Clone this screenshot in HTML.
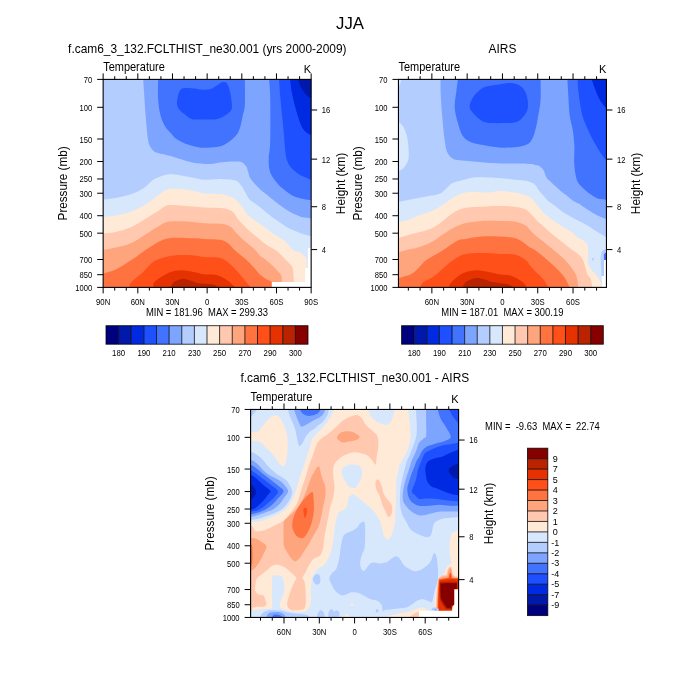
<!DOCTYPE html>
<html><head><meta charset="utf-8"><style>
html,body{margin:0;padding:0;background:#fff;width:700px;height:700px;overflow:hidden}
svg{display:block;will-change:transform}
text{font-family:"Liberation Sans", sans-serif;fill:#000}
</style></head><body>
<svg width="700" height="700" viewBox="0 0 700 700">
<rect width="700" height="700" fill="#fff"/>
<defs>
<clipPath id="c103"><rect x="103.15" y="79.4" width="208" height="208"/></clipPath>
<clipPath id="c398"><rect x="398.45" y="79.4" width="208" height="208"/></clipPath>
<clipPath id="c250"><rect x="250.6" y="409.45" width="208" height="208"/></clipPath>
</defs>
<g clip-path="url(#c103)">
<rect x="103.15" y="79.4" width="208" height="208" fill="#b4cdff"/>
<path d="M143.2,79.3C143.33,81.37 143.6,85.7 144,91.7C144.4,97.7 144.95,107.43 145.6,115.3C146.25,123.17 147.12,133.67 147.9,138.9C148.68,144.13 149.25,144.62 150.3,146.7C151.35,148.78 152.9,150.35 154.2,151.4C155.5,152.45 155.35,152.22 158.1,153C160.85,153.78 165.98,154.78 170.7,156.1C175.42,157.42 181.95,159.72 186.4,160.9C190.85,162.08 193.47,162.68 197.4,163.2C201.33,163.72 206.28,164.13 210,164C213.72,163.87 214.93,162.8 219.7,162.4C224.47,162 234.28,161.07 238.6,161.6C242.92,162.13 244.03,163.95 245.6,165.6C247.17,167.25 247.17,169.3 248,171.5C248.83,173.7 248.77,176 250.6,178.8C252.43,181.6 256.25,185.6 259,188.3C261.75,191 265.03,193.28 267.1,195C269.17,196.72 269.48,197.05 271.4,198.6C273.32,200.15 276.22,202.52 278.6,204.3C280.98,206.08 283.32,207.75 285.7,209.3C288.08,210.85 290.52,212.42 292.9,213.6C295.28,214.78 297.98,215.73 300,216.4C302.02,217.07 303.12,217.25 305,217.6C306.88,217.95 310.25,218.35 311.3,218.5L311.3,79.3Z" fill="#7da5ff"/>
<path d="M158.1,79.3C158.1,82.68 157.7,93.6 158.1,99.6C158.5,105.6 159.35,110.85 160.5,115.3C161.65,119.75 163.3,123.33 165,126.3C166.7,129.27 168.8,131 170.7,133.1C172.6,135.2 173.53,136.98 176.4,138.9C179.27,140.82 184.08,143.18 187.9,144.6C191.72,146.02 195.5,146.93 199.3,147.4C203.1,147.87 206.9,147.68 210.7,147.4C214.5,147.12 218.87,146.75 222.1,145.7C225.33,144.65 227.62,143 230.1,141.1C232.58,139.2 235.28,136.77 237,134.3C238.72,131.83 239.45,129.35 240.4,126.3C241.35,123.25 241.95,119.62 242.7,116C243.45,112.38 244.53,110.72 244.9,104.6C245.27,98.48 244.9,83.52 244.9,79.3Z" fill="#4173ff"/>
<path d="M269.1,79.3C269.27,81.6 269.88,86.5 270.1,93.1C270.32,99.7 270.4,110.32 270.4,118.9C270.4,127.48 270.38,138.03 270.1,144.6C269.82,151.17 268.78,154.02 268.7,158.3C268.62,162.58 268.73,166.87 269.6,170.3C270.47,173.73 271.78,175.9 273.9,178.9C276.02,181.9 279.13,185.5 282.3,188.3C285.47,191.1 289.38,193.93 292.9,195.7C296.42,197.47 300.33,198.18 303.4,198.9C306.47,199.62 309.98,199.82 311.3,200L311.3,79.3Z" fill="#4173ff"/>
<path d="M177,104.6C176.62,102.5 177.22,99.8 177.6,97.7C177.98,95.6 178.55,93.52 179.3,92C180.05,90.48 180.67,89.27 182.1,88.6C183.53,87.93 185.8,88 187.9,88C190,88 192.23,88.32 194.7,88.6C197.17,88.88 200.03,89.62 202.7,89.7C205.37,89.78 208.42,89.77 210.7,89.1C212.98,88.43 214.5,86.83 216.4,85.7C218.3,84.57 220.57,82.87 222.1,82.3C223.63,81.73 224.63,81.83 225.6,82.3C226.57,82.77 227.15,83.48 227.9,85.1C228.65,86.72 229.53,89.7 230.1,92C230.67,94.3 231,96.23 231.3,98.9C231.6,101.57 232.28,105.72 231.9,108C231.52,110.28 230.25,111.27 229,112.6C227.75,113.93 226.3,114.95 224.4,116C222.5,117.05 219.88,118.33 217.6,118.9C215.32,119.47 213.75,119.32 210.7,119.4C207.65,119.48 202.53,119.48 199.3,119.4C196.07,119.32 193.58,119.65 191.3,118.9C189.02,118.15 187.5,116.33 185.6,114.9C183.7,113.47 181.33,112.02 179.9,110.3C178.47,108.58 177.38,106.7 177,104.6Z" fill="#1e50ff"/>
<path d="M279,79.3C279.28,83.03 279.98,93.68 280.7,101.7C281.42,109.72 282.58,119.68 283.3,127.4C284.02,135.12 284.45,142.73 285,148C285.55,153.27 285.65,155.82 286.6,159C287.55,162.18 288.6,164.52 290.7,167.1C292.8,169.68 295.77,172.38 299.2,174.5C302.63,176.62 309.28,178.92 311.3,179.8L311.3,79.3Z" fill="#1e50ff"/>
<path d="M290.1,79.3C290.4,81.6 290.9,87.93 291.9,93.1C292.9,98.27 294.53,104.87 296.1,110.3C297.67,115.73 299.58,121.98 301.3,125.7C303.02,129.42 304.73,131.03 306.4,132.6C308.07,134.17 310.48,134.68 311.3,135.1L311.3,79.3Z" fill="#002ae1"/>
<path d="M297.9,79.3C298.47,80.75 299.88,85.4 301.3,88C302.72,90.6 304.73,93.18 306.4,94.9C308.07,96.62 310.48,97.73 311.3,98.3L311.3,79.3Z" fill="#0019aa"/>
<path d="M103.3,199.6C105.37,199.35 111.02,199.02 115.7,198.1C120.38,197.18 126.68,195.8 131.4,194.1C136.12,192.4 140.73,190 144,187.9C147.27,185.8 148.9,183.13 151,181.5C153.1,179.87 153.83,179.27 156.6,178.1C159.37,176.93 163.93,175.02 167.6,174.5C171.27,173.98 174.15,174.4 178.6,175C183.05,175.6 190.07,177.32 194.3,178.1C198.53,178.88 199.77,179.57 204,179.7C208.23,179.83 214.47,178.77 219.7,178.9C224.93,179.03 231.73,179.28 235.4,180.5C239.07,181.72 240.18,184.45 241.7,186.2C243.22,187.95 243.53,189.28 244.5,191C245.47,192.72 246.58,195 247.5,196.5C248.42,198 248.4,198.58 250,200C251.6,201.42 254.72,203.22 257.1,205C259.48,206.78 261.92,208.8 264.3,210.7C266.68,212.6 269.02,214.62 271.4,216.4C273.78,218.18 276.22,219.73 278.6,221.4C280.98,223.07 283.32,224.97 285.7,226.4C288.08,227.83 290.52,228.92 292.9,230C295.28,231.08 297.9,232.1 300,232.9C302.1,233.7 303.62,234.25 305.5,234.8C307.38,235.35 310.33,235.97 311.3,236.2L311.3,287.3L103.3,287.3Z" fill="#d7e8fc"/>
<path d="M103.3,216.9C105.37,216.65 111.02,216.32 115.7,215.4C120.38,214.48 126.17,213.37 131.4,211.4C136.63,209.43 142.38,206.48 147.1,203.6C151.82,200.72 156.28,196.47 159.7,194.1C163.12,191.73 164.45,190.23 167.6,189.4C170.75,188.57 174.15,188.83 178.6,189.1C183.05,189.37 190.07,190.28 194.3,191C198.53,191.72 199.77,192.88 204,193.4C208.23,193.92 214.98,193.45 219.7,194.1C224.42,194.75 229.33,196.07 232.3,197.3C235.27,198.53 235.88,199.97 237.5,201.5C239.12,203.03 240.67,204.75 242,206.5C243.33,208.25 244.42,210.45 245.5,212C246.58,213.55 246.75,214.27 248.5,215.8C250.25,217.33 253.37,219.32 256,221.2C258.63,223.08 261.73,225.22 264.3,227.1C266.87,228.98 269.12,230.93 271.4,232.5C273.68,234.07 275.65,234.95 278,236.5C280.35,238.05 283.02,239.57 285.5,241.8C287.98,244.03 290.62,248.18 292.9,249.9C295.18,251.62 297.27,251.03 299.2,252.1C301.13,253.17 303.27,254.9 304.5,256.3C305.73,257.7 306.25,256.22 306.6,260.5C306.95,264.78 306.6,278.42 306.6,282L311.3,287.3L103.3,287.3Z" fill="#ffead7"/>
<path d="M103.3,233.4C105.37,233.15 111.02,232.95 115.7,231.9C120.38,230.85 126.17,229.47 131.4,227.1C136.63,224.73 142.38,220.57 147.1,217.7C151.82,214.83 156.03,212 159.7,209.9C163.37,207.8 164.65,205.77 169.1,205.1C173.55,204.43 180.58,205.5 186.4,205.9C192.22,206.3 197.92,207.1 204,207.5C210.08,207.9 218.18,207.65 222.9,208.3C227.62,208.95 229.87,209.7 232.3,211.4C234.73,213.1 236.22,216.83 237.5,218.5C238.78,220.17 238.17,219.5 240,221.4C241.83,223.3 245.85,227.43 248.5,229.9C251.15,232.37 252.92,233.73 255.9,236.2C258.88,238.67 262.88,242.23 266.4,244.7C269.92,247.17 274,248.72 277,251C280,253.28 282.12,256.12 284.4,258.4C286.68,260.68 289.28,262.93 290.7,264.7C292.12,266.47 292.38,266.12 292.9,269C293.42,271.88 293.65,279.83 293.8,282L293.8,287.3L103.3,287.3Z" fill="#ffc8af"/>
<path d="M103.3,249.9C105.37,249.52 111.02,248.77 115.7,247.6C120.38,246.43 126.17,245.27 131.4,242.9C136.63,240.53 142.38,236.28 147.1,233.4C151.82,230.52 156.03,227.57 159.7,225.6C163.37,223.63 164.65,222.27 169.1,221.6C173.55,220.93 180.58,221.33 186.4,221.6C192.22,221.87 197.92,222.8 204,223.2C210.08,223.6 218.45,223.35 222.9,224C227.35,224.65 228.62,225.78 230.7,227.1C232.78,228.42 233.3,229.8 235.4,231.9C237.5,234 240.15,236.83 243.3,239.7C246.45,242.57 251.52,246.43 254.3,249.1C257.08,251.77 258.27,254.07 260,255.7C261.73,257.33 263,257.58 264.7,258.9C266.4,260.22 267.97,261.52 270.2,263.6C272.43,265.68 276.27,269.43 278.1,271.4C279.93,273.37 280.55,273.63 281.2,275.4C281.85,277.17 281.87,280.9 282,282L282,287.3L103.3,287.3Z" fill="#ffa57d"/>
<path d="M103.3,273.5C105.37,272.85 111.02,271.83 115.7,269.6C120.38,267.37 126.17,263.52 131.4,260.1C136.63,256.68 142.38,252.23 147.1,249.1C151.82,245.97 155.77,243.13 159.7,241.3C163.63,239.47 166.25,238.63 170.7,238.1C175.15,237.57 180.85,237.97 186.4,238.1C191.95,238.23 198.45,238.63 204,238.9C209.55,239.17 215.77,239.03 219.7,239.7C223.63,240.37 224.98,241.07 227.6,242.9C230.22,244.73 232.52,248.08 235.4,250.7C238.28,253.32 241.75,255.72 244.9,258.6C248.05,261.48 251.78,265.33 254.3,268C256.82,270.67 258,272.72 260,274.6C262,276.48 264.33,278.07 266.3,279.3C268.27,280.53 270.88,280.67 271.8,282C272.72,283.33 271.8,286.42 271.8,287.3L103.3,287.3Z" fill="#ff7341"/>
<path d="M129.1,287.8C129.48,286.85 129.18,284.62 131.4,282.1C133.62,279.58 138.73,276.1 142.4,272.7C146.07,269.3 149.47,264.32 153.4,261.7C157.33,259.08 161.8,258.1 166,257C170.2,255.9 173.88,255.37 178.6,255.1C183.32,254.83 190.07,255.08 194.3,255.4C198.53,255.72 199.77,256.6 204,257C208.23,257.4 215.52,256.75 219.7,257.8C223.88,258.85 226.22,261.08 229.1,263.3C231.98,265.52 234.37,268.22 237,271.1C239.63,273.98 242.55,277.82 244.9,280.6C247.25,283.38 250.07,286.6 251.1,287.8Z" fill="#ff5019"/>
<path d="M153.4,287.8C153.53,286.85 152.62,284.08 154.2,282.1C155.78,280.12 159.62,277.73 162.9,275.9C166.18,274.07 170.23,272.02 173.9,271.1C177.57,270.18 180.98,270.13 184.9,270.4C188.82,270.67 194.22,272.05 197.4,272.7C200.58,273.35 200.8,273.9 204,274.3C207.2,274.7 212.67,274.05 216.6,275.1C220.53,276.15 224.47,278.48 227.6,280.6C230.73,282.72 234.1,286.6 235.4,287.8Z" fill="#e63200"/>
<path d="M170.7,287.8C171.23,286.85 172.07,283.57 173.9,282.1C175.73,280.63 179.35,279.38 181.7,279C184.05,278.62 185.38,279.15 188,279.8C190.62,280.45 194.73,282.25 197.4,282.9C200.07,283.55 201.33,283.43 204,283.7C206.67,283.97 210.78,283.82 213.4,284.5C216.02,285.18 218.65,287.25 219.7,287.8Z" fill="#b92300"/>
<path d="M271.8,287.8L271.8,282L305.2,282L305.2,268L307.9,268L307.9,247.9L311.8,247.9L311.8,287.8Z" fill="#ffffff"/>
</g>
<g clip-path="url(#c398)">
<rect x="398.45" y="79.4" width="208" height="208" fill="#b4cdff"/>
<path d="M440.6,79.3C440.6,81.37 440.35,85.7 440.6,91.7C440.85,97.7 441.45,107.43 442.1,115.3C442.75,123.17 443.7,132.88 444.5,138.9C445.3,144.92 445.72,148.27 446.9,151.4C448.08,154.53 449.77,156.25 451.6,157.7C453.43,159.15 454.23,159.45 457.9,160.1C461.57,160.75 468.37,161.12 473.6,161.6C478.83,162.08 484.07,162.68 489.3,163C494.53,163.32 500.77,163.42 505,163.5C509.23,163.58 510.47,163.42 514.7,163.5C518.93,163.58 527.02,163.75 530.4,164C533.78,164.25 533.53,164.65 535,165C536.47,165.35 537.78,165.22 539.2,166.1C540.62,166.98 542.27,168.37 543.5,170.3C544.73,172.23 545.37,175.77 546.6,177.7C547.83,179.63 548.43,179.6 550.9,181.9C553.37,184.2 558.88,189.32 561.4,191.5C563.92,193.68 564.08,193.47 566,195C567.92,196.53 570.57,199.15 572.9,200.7C575.23,202.25 578.38,203.37 580,204.3C581.62,205.23 580.23,204.73 582.6,206.3C584.97,207.87 590.22,211.55 594.2,213.7C598.18,215.85 604.45,218.28 606.5,219.2L607,78.8Z" fill="#7da5ff"/>
<path d="M457.9,79.3C457.63,81.37 456.83,87.02 456.3,91.7C455.77,96.38 454.43,102.17 454.7,107.4C454.97,112.63 456.58,118.38 457.9,123.1C459.22,127.82 460.52,132.55 462.6,135.7C464.68,138.85 467,140.43 470.4,142C473.8,143.57 478.23,144.18 483,145.1C487.77,146.02 494.23,147.1 499,147.5C503.77,147.9 507.67,147.77 511.6,147.5C515.53,147.23 519.47,146.82 522.6,145.9C525.73,144.98 528.32,144.48 530.4,142C532.48,139.52 533.78,135.45 535.1,131C536.42,126.55 537.38,120.53 538.3,115.3C539.22,110.07 540.22,105.6 540.6,99.6C540.98,93.6 540.6,82.68 540.6,79.3Z" fill="#4173ff"/>
<path d="M567.4,79.3C567.52,81.37 567.72,85.7 568.1,91.7C568.48,97.7 568.9,108.75 569.7,115.3C570.5,121.85 572.12,125.77 572.9,131C573.68,136.23 574.2,141.73 574.4,146.7C574.6,151.67 573.97,156.52 574.1,160.8C574.23,165.08 574.67,169.05 575.2,172.4C575.73,175.75 576.33,178.63 577.3,180.9C578.27,183.17 579.42,184.23 581,186C582.58,187.77 584.6,189.72 586.8,191.5C589,193.28 592,195.45 594.2,196.7C596.4,197.95 597.95,198.45 600,199C602.05,199.55 605.42,199.83 606.5,200L607,78.8Z" fill="#4173ff"/>
<path d="M469.6,106.6C469.6,103.72 471.37,99.53 473.6,96.4C475.83,93.27 479.87,89.63 483,87.8C486.13,85.97 489.73,85.93 492.4,85.4C495.07,84.87 496.33,84.98 499,84.6C501.67,84.22 505.52,83.22 508.4,83.1C511.28,82.98 513.93,83.12 516.3,83.9C518.67,84.68 520.9,85.97 522.6,87.8C524.3,89.63 525.58,92.15 526.5,94.9C527.42,97.65 528.1,101.43 528.1,104.3C528.1,107.17 527.68,109.62 526.5,112.1C525.32,114.58 522.97,117.48 521,119.2C519.03,120.92 517.37,121.75 514.7,122.4C512.03,123.05 508.72,122.98 505,123.1C501.28,123.22 496.07,123.35 492.4,123.1C488.73,122.85 486.13,123.17 483,121.6C479.87,120.03 475.83,116.2 473.6,113.7C471.37,111.2 469.6,109.48 469.6,106.6Z" fill="#1e50ff"/>
<path d="M577.6,79.3C577.73,81.37 577.62,85.7 578.4,91.7C579.18,97.7 580.6,108.75 582.3,115.3C584,121.85 586.5,126.28 588.6,131C590.7,135.72 592.55,139.42 594.9,143.6C597.25,147.78 600.77,153.35 602.7,156.1C604.63,158.85 605.87,159.43 606.5,160.1L607,78.8Z" fill="#1e50ff"/>
<path d="M591.7,79.3C592.23,80.85 593.58,85.22 594.9,88.6C596.22,91.98 597.67,96.2 599.6,99.6C601.53,103 605.35,107.43 606.5,109L607,78.8Z" fill="#002ae1"/>
<path d="M398,121.6C398.82,122.38 401.43,123.95 402.9,126.3C404.37,128.65 405.88,132.3 406.8,135.7C407.72,139.1 408.13,142.77 408.4,146.7C408.67,150.63 409.07,155.9 408.4,159.3C407.73,162.7 405.72,165.27 404.4,167.1C403.08,168.93 401.57,169.5 400.5,170.3C399.43,171.1 398.42,171.63 398,171.9Z" fill="#d7e8fc"/>
<path d="M398,79L401.3,79L400.2,84L398,87.5Z" fill="#d7e8fc"/>
<path d="M398.5,202C400.53,201.6 406.05,200.52 410.7,199.6C415.35,198.68 421.68,197.42 426.4,196.5C431.12,195.58 435.58,195.53 439,194.1C442.42,192.67 444.73,189.72 446.9,187.9C449.07,186.08 449.65,184.43 452,183.2C454.35,181.97 457.4,181.47 461,180.5C464.6,179.53 468.88,177.92 473.6,177.4C478.32,176.88 485.07,177.28 489.3,177.4C493.53,177.52 494.77,177.72 499,178.1C503.23,178.48 509.98,179.22 514.7,179.7C519.42,180.18 523.9,180.17 527.3,181C530.7,181.83 533.12,183.03 535.1,184.7C537.08,186.37 537.9,189.28 539.2,191C540.5,192.72 541.45,193.38 542.9,195C544.35,196.62 545.88,198.92 547.9,200.7C549.92,202.48 552.63,203.92 555,205.7C557.37,207.48 559.72,209.73 562.1,211.4C564.48,213.07 566.77,214.22 569.3,215.7C571.83,217.18 574.57,218.82 577.3,220.3C580.03,221.78 582.88,223 585.7,224.6C588.52,226.2 591.37,228.15 594.2,229.9C597.03,231.65 600.65,233.83 602.7,235.1C604.75,236.37 605.87,237.1 606.5,237.5L607,287.8L398,287.8Z" fill="#d7e8fc"/>
<path d="M398.5,222.4C400.53,221.83 407.6,220.08 410.7,219C413.8,217.92 414.48,216.9 417.1,215.9C419.72,214.9 423.75,213.87 426.4,213C429.05,212.13 430.13,212.15 433,210.7C435.87,209.25 440.08,206.6 443.6,204.3C447.12,202 450.58,198.83 454.1,196.9C457.62,194.97 461.45,193.55 464.7,192.7C467.95,191.85 469.5,191.82 473.6,191.8C477.7,191.78 485.07,192.73 489.3,192.6C493.53,192.47 494.77,191 499,191C503.23,191 510.53,191.97 514.7,192.6C518.87,193.23 521.45,194.05 524,194.8C526.55,195.55 528.4,196.12 530,197.1C531.6,198.08 532.42,199.38 533.6,200.7C534.78,202.02 535.92,203.57 537.1,205C538.28,206.43 539.5,207.87 540.7,209.3C541.9,210.73 542.52,211.93 544.3,213.6C546.08,215.27 549.02,217.52 551.4,219.3C553.78,221.08 556.22,222.75 558.6,224.3C560.98,225.85 563.32,227.17 565.7,228.6C568.08,230.03 570.97,231.45 572.9,232.9C574.83,234.35 575.33,235.87 577.3,237.3C579.27,238.73 582.93,239.92 584.7,241.5C586.47,243.08 587.37,243.45 587.9,246.8C588.43,250.15 587.55,258.08 587.9,261.6C588.25,265.12 588.6,265.62 590,267.9C591.4,270.18 594.55,273 596.3,275.3C598.05,277.6 599.62,279.62 600.5,281.7C601.38,283.78 601.42,286.78 601.6,287.8L398,287.8Z" fill="#ffead7"/>
<path d="M398.5,237.8C400.73,237.15 407.03,235.25 411.9,233.9C416.77,232.55 423.3,231.28 427.7,229.7C432.1,228.12 434.77,226.7 438.3,224.4C441.83,222.1 445.38,218.37 448.9,215.9C452.42,213.43 455.88,211.05 459.4,209.6C462.92,208.15 466.33,207.68 470,207.2C473.67,206.72 476.57,206.92 481.4,206.7C486.23,206.48 493.45,205.9 499,205.9C504.55,205.9 510.53,206.22 514.7,206.7C518.87,207.18 521.45,207.77 524,208.8C526.55,209.83 527.82,210.92 530,212.9C532.18,214.88 534.72,218.33 537.1,220.7C539.48,223.07 541.92,224.95 544.3,227.1C546.68,229.25 549.43,231.9 551.4,233.6C553.37,235.3 553.55,235.28 556.1,237.3C558.65,239.32 563.52,243.23 566.7,245.7C569.88,248.17 572.9,250.33 575.2,252.1C577.5,253.87 579.1,254.72 580.5,256.3C581.9,257.88 582.73,259.48 583.6,261.6C584.47,263.72 584.98,266.72 585.7,269C586.42,271.28 587.02,273.55 587.9,275.3C588.78,277.05 590.3,277.42 591,279.5C591.7,281.58 591.92,286.42 592.1,287.8L398,287.8Z" fill="#ffc8af"/>
<path d="M398.5,252.3C400.53,251.77 407.6,249.87 410.7,249.1C413.8,248.33 414.48,248.48 417.1,247.7C419.72,246.92 423.75,245.47 426.4,244.4C429.05,243.33 430.13,243.05 433,241.3C435.87,239.55 440.08,236.18 443.6,233.9C447.12,231.62 450.58,229.37 454.1,227.6C457.62,225.83 460.15,224.42 464.7,223.3C469.25,222.18 475.68,221.3 481.4,220.9C487.12,220.5 493.45,220.78 499,220.9C504.55,221.02 510.25,220.82 514.7,221.6C519.15,222.38 523.15,224.2 525.7,225.6C528.25,227 528.45,228.42 530,230C531.55,231.58 532.4,232.83 535,235.1C537.6,237.37 542.08,240.77 545.6,243.6C549.12,246.43 552.93,249.45 556.1,252.1C559.27,254.75 562.13,257.03 564.6,259.5C567.07,261.97 569.13,264.62 570.9,266.9C572.67,269.18 574.13,271.1 575.2,273.2C576.27,275.3 576.78,277.07 577.3,279.5C577.82,281.93 578.13,286.42 578.3,287.8L398,287.8Z" fill="#ffa57d"/>
<path d="M398.5,278.2C400.53,277.55 407.35,276 410.7,274.3C414.05,272.6 415.98,270.37 418.6,268C421.22,265.63 422.48,262.98 426.4,260.1C430.32,257.22 436.85,253.97 442.1,250.7C447.35,247.43 453.97,242.47 457.9,240.5C461.83,238.53 461.78,239.55 465.7,238.9C469.62,238.25 475.85,236.98 481.4,236.6C486.95,236.22 493.45,236.35 499,236.6C504.55,236.85 510.52,237.05 514.7,238.1C518.88,239.15 521.55,241.33 524.1,242.9C526.65,244.47 528.18,246.33 530,247.5C531.82,248.67 532.4,248.08 535,249.9C537.6,251.72 542.08,255.4 545.6,258.4C549.12,261.4 552.93,264.73 556.1,267.9C559.27,271.07 562.3,274.08 564.6,277.4C566.9,280.72 569.02,286.07 569.9,287.8L398,287.8Z" fill="#ff7341"/>
<path d="M420.1,287.8C420.63,286.85 420.93,284.08 423.3,282.1C425.67,280.12 430.37,278.77 434.3,275.9C438.23,273.03 442.97,268.05 446.9,264.9C450.83,261.75 454.77,258.83 457.9,257C461.03,255.17 461.78,254.55 465.7,253.9C469.62,253.25 475.85,253.1 481.4,253.1C486.95,253.1 493.45,253.65 499,253.9C504.55,254.15 510.25,253.57 514.7,254.6C519.15,255.63 523.15,258.28 525.7,260.1C528.25,261.92 528.45,263.67 530,265.5C531.55,267.33 532.75,268.77 535,271.1C537.25,273.43 541.22,276.72 543.5,279.5C545.78,282.28 547.83,286.42 548.7,287.8Z" fill="#ff5019"/>
<path d="M448.4,287.8C448.93,286.85 449.5,284.35 451.6,282.1C453.7,279.85 457.87,276.13 461,274.3C464.13,272.47 467.25,271.75 470.4,271.1C473.55,270.45 476.23,270.13 479.9,270.4C483.57,270.67 489.22,272.05 492.4,272.7C495.58,273.35 495.8,273.77 499,274.3C502.2,274.83 507.67,274.6 511.6,275.9C515.53,277.2 519.98,280.12 522.6,282.1C525.22,284.08 526.52,286.85 527.3,287.8Z" fill="#e63200"/>
<path d="M462.6,287.8C463.12,286.85 463.62,283.7 465.7,282.1C467.78,280.5 472.22,278.72 475.1,278.2C477.98,277.68 480.12,278.35 483,279C485.88,279.65 489.73,281.45 492.4,282.1C495.07,282.75 496.33,282.5 499,282.9C501.67,283.3 505.78,283.68 508.4,284.5C511.02,285.32 513.65,287.25 514.7,287.8Z" fill="#b92300"/>
<path d="M600.5,258L601.5,251.5L604,249.8L607,249.5L607,277L601.5,276Z" fill="#b4cdff"/>
<path d="M592.1,258L593.7,257.9L593.7,260.5L592.1,260.5Z" fill="#b4cdff"/>
<path d="M604,254L607,252L607,260L604,260Z" fill="#4173ff"/>
<path d="M604,260L607,260L607,288L602,288L602,276L604,276Z" fill="#ffffff"/>
</g>
<g clip-path="url(#c250)">
<rect x="250.6" y="409.45" width="208" height="208" fill="#d7e8fc"/>
<path d="M250,408.4L257.8,408.4L254.2,413.2L251.6,416.3L250,417.6Z" fill="#b4cdff"/>
<path d="M250,431.7C250.35,431.7 250.72,431.78 252.1,431.7C253.48,431.62 256.75,431.88 258.3,431.2C259.85,430.52 260.2,429.05 261.4,427.6C262.6,426.15 263.97,424.22 265.5,422.5C267.03,420.78 269.07,418.5 270.6,417.3C272.13,416.1 273.5,415.55 274.7,415.3C275.9,415.05 276.77,415.12 277.8,415.8C278.83,416.48 279.87,417.78 280.9,419.4C281.93,421.02 283.05,423.28 284,425.5C284.95,427.72 286,430.47 286.6,432.7C287.2,434.93 287.43,436.15 287.6,438.9C287.77,441.65 287.77,445.93 287.6,449.2C287.43,452.47 287.12,455.75 286.6,458.5C286.08,461.25 285.45,464.6 284.5,465.7C283.55,466.8 282.02,465.8 280.9,465.1C279.78,464.4 279.17,463.3 277.8,461.5C276.43,459.7 274.58,456.52 272.7,454.3C270.82,452.08 268.38,450.08 266.5,448.2C264.62,446.32 262.93,444.2 261.4,443C259.87,441.8 258.85,441.33 257.3,441C255.75,440.67 253.32,441 252.1,441C250.88,441 250.35,441 250,441Z" fill="#ffead7"/>
<path d="M288.1,408.4C288.27,409.37 288.42,412.03 289.1,414.2C289.78,416.37 291.17,418.82 292.2,421.4C293.23,423.98 294.43,426.6 295.3,429.7C296.17,432.8 296.72,437.27 297.4,440C298.08,442.73 298.55,445.6 299.4,446.1C300.25,446.6 301.47,444.53 302.5,443C303.53,441.47 304.4,438.78 305.6,436.9C306.8,435.02 308.15,433.08 309.7,431.7C311.25,430.32 313.52,429.63 314.9,428.6C316.28,427.57 316.63,426.7 318,425.5C319.37,424.3 321.55,423.1 323.1,421.4C324.65,419.7 326.27,417.47 327.3,415.3C328.33,413.13 328.97,409.55 329.3,408.4Z" fill="#b4cdff"/>
<path d="M293.8,408.4C294.22,409.72 295.37,413.78 296.3,416.3C297.23,418.82 298.53,421.78 299.4,423.5C300.27,425.22 300.3,426.43 301.5,426.6C302.7,426.77 304.88,425.37 306.6,424.5C308.32,423.63 309.9,422.43 311.8,421.4C313.7,420.37 316.12,419.5 318,418.3C319.88,417.1 321.82,415.85 323.1,414.2C324.38,412.55 325.27,409.37 325.7,408.4Z" fill="#7da5ff"/>
<path d="M299.9,408.4C300.17,409.03 300.55,411.05 301.5,412.2C302.45,413.35 304.07,414.7 305.6,415.3C307.13,415.9 308.98,415.98 310.7,415.8C312.42,415.62 314.68,414.63 315.9,414.2C317.12,413.77 317.05,414.17 318,413.2C318.95,412.23 321,409.2 321.6,408.4Z" fill="#4173ff"/>
<path d="M334.5,408.4L331.4,416.3L326.2,423.5L322.1,428.6L318.5,431.8L314.9,435.8L311.8,438.9L309.7,447.1L307.7,454.3L305.6,460.5L302.5,469.8L299.6,478L297.2,486.3L294.8,494.5L291.2,501.7L286.1,508.9L278.9,514.1L271.7,517.1L263.4,520.2L256.2,521.8L250,521.8L250,610.3L258.3,609.8L265.5,608.7L272,608.5L281,608.5L288,610.5L296,612L303,612L307,610.5L310,606L311,598L310.7,590L311.8,578L316,570.5L320,567.2L322.1,566.8L326.2,562.5L329.3,556.3L331.4,550.1L332.4,546L333.4,537.7L335.5,522.3L338.6,512L343.7,510L346.8,506.9L348.9,496.6L353,494L357.1,496.6L363.3,501.7L369.4,506.9L374.6,512L379.7,520.2L381.8,527.4L383.8,535.7L386.9,539.8L390,538.7L393.1,530.5L395.2,522.3L395.5,510L395.9,500L395.9,488.6L396.4,480L397.6,474.3L399.3,465.7L402.1,460L405,455L407.5,450.2L409.6,443L410.6,436.9L410.1,426.6L409.1,416.3L408.1,408.4Z" fill="#ffead7"/>
<path d="M318,442C318.87,440.97 320.38,439.27 322.1,437.9C323.82,436.53 326.07,435.52 328.3,433.8C330.53,432.08 333.27,429.67 335.5,427.6C337.73,425.53 339.47,423.12 341.7,421.4C343.93,419.68 346.68,418.32 348.9,417.3C351.12,416.28 353.3,415.55 355,415.3C356.7,415.05 357.72,414.95 359.1,415.8C360.48,416.65 362.1,418.78 363.3,420.4C364.5,422.02 364.77,423.78 366.3,425.5C367.83,427.22 370.6,428.8 372.5,430.7C374.4,432.6 376.75,434.17 377.7,436.9C378.65,439.63 378.38,443.68 378.2,447.1C378.02,450.52 377.03,454.48 376.6,457.4C376.17,460.32 376.45,464.25 375.6,464.6C374.75,464.95 372.87,461.03 371.5,459.5C370.13,457.97 369.12,456.43 367.4,455.4C365.68,454.37 363.43,453.82 361.2,453.3C358.97,452.78 356.4,452.13 354,452.3C351.6,452.47 349.03,453.45 346.8,454.3C344.57,455.15 342.48,456.02 340.6,457.4C338.72,458.78 336.7,460.88 335.5,462.6C334.3,464.32 333.78,465.47 333.4,467.7C333.02,469.93 333.02,472.9 333.2,476C333.38,479.1 334.47,482.87 334.5,486.3C334.53,489.73 334.1,493.17 333.4,496.6C332.7,500.03 331.15,503.48 330.3,506.9C329.45,510.32 328.98,513.68 328.3,517.1C327.62,520.52 326.88,523.97 326.2,527.4C325.52,530.83 324.72,534.27 324.2,537.7C323.68,541.13 323.8,545.03 323.1,548C322.4,550.97 321.55,553.7 320,555.5C318.45,557.3 315.52,557.38 313.8,558.8C312.08,560.22 311.07,561.77 309.7,564C308.33,566.23 306.8,569.88 305.6,572.2C304.4,574.52 302.67,576.27 302.5,577.9C302.33,579.53 304.08,579.6 304.6,582C305.12,584.4 305.43,588.55 305.6,592.3C305.77,596.05 305.95,601.67 305.6,604.5C305.25,607.33 305.05,608.33 303.5,609.3C301.95,610.27 298.35,610.18 296.3,610.3C294.25,610.42 292.57,610.47 291.2,610C289.83,609.53 288.78,608.57 288.1,607.5C287.42,606.43 286.93,605.62 287.1,603.6C287.27,601.58 288.42,597.8 289.1,595.4C289.78,593 290.33,591.43 291.2,589.2C292.07,586.97 293.45,583.88 294.3,582C295.15,580.12 296.82,579.45 296.3,577.9C295.78,576.35 293.08,574.42 291.2,572.7C289.32,570.98 287.05,568.88 285,567.6C282.95,566.32 280.95,565.35 278.9,565C276.85,564.65 274.6,564.72 272.7,565.5C270.8,566.28 269.38,568.15 267.5,569.7C265.62,571.25 263.1,573.43 261.4,574.8C259.7,576.17 258.25,576.53 257.3,577.9C256.35,579.27 256.05,580.95 255.7,583C255.35,585.05 254.77,588.32 255.2,590.2C255.63,592.08 256.93,593.43 258.3,594.3C259.67,595.17 262.2,594.37 263.4,595.4C264.6,596.43 264.98,598.97 265.5,600.5C266.02,602.03 266.85,603.57 266.5,604.6C266.15,605.63 264.77,606.35 263.4,606.7C262.03,607.05 260.02,606.57 258.3,606.7C256.58,606.83 254.48,607.37 253.1,607.5C251.72,607.63 250.52,620.17 250,607.5C249.48,594.83 248.97,544.17 250,531.5C251.03,518.83 253.97,531.67 256.2,531.5C258.43,531.33 261,531.18 263.4,530.5C265.8,529.82 268.02,528.6 270.6,527.4C273.18,526.2 276.5,524.67 278.9,523.3C281.3,521.93 282.95,521.08 285,519.2C287.05,517.32 289.32,514.4 291.2,512C293.08,509.6 294.93,507.37 296.3,504.8C297.67,502.23 298.37,499.68 299.4,496.6C300.43,493.52 301.47,489.57 302.5,486.3C303.53,483.03 304.73,479.75 305.6,477C306.47,474.25 307.02,472.03 307.7,469.8C308.38,467.57 308.85,466 309.7,463.6C310.55,461.2 311.93,457.8 312.8,455.4C313.67,453 314.22,451.08 314.9,449.2C315.58,447.32 316.38,445.3 316.9,444.1C317.42,442.9 317.13,443.03 318,442Z" fill="#ffc8af"/>
<path d="M376.1,480.5C376.65,479.82 377.75,478.93 378.7,479.9C379.65,480.87 380.95,483.95 381.8,486.3C382.65,488.65 382.85,491.8 383.8,494C384.75,496.2 386.28,497.87 387.5,499.5C388.72,501.13 390.3,502.23 391.1,503.8C391.9,505.37 392.23,507.18 392.3,508.9C392.37,510.62 391.97,512.75 391.5,514.1C391.03,515.45 390.17,516.68 389.5,517C388.83,517.32 388.27,517.17 387.5,516C386.73,514.83 385.75,511.83 384.9,510C384.05,508.17 383.27,507.33 382.4,505C381.53,502.67 380.67,498.5 379.7,496C378.73,493.5 377.32,492 376.6,490C375.88,488 375.48,485.58 375.4,484C375.32,482.42 375.55,481.18 376.1,480.5Z" fill="#ffc8af"/>
<path d="M337,436.9C337.33,435.68 339.13,433.65 340.6,432.7C342.07,431.75 343.9,431.37 345.8,431.2C347.7,431.03 350.28,431.27 352,431.7C353.72,432.13 354.82,432.93 356.1,433.8C357.38,434.67 359.7,435.87 359.7,436.9C359.7,437.93 357.9,439.23 356.1,440C354.3,440.77 351.13,441.08 348.9,441.5C346.67,441.92 344.42,442.75 342.7,442.5C340.98,442.25 339.55,440.93 338.6,440C337.65,439.07 336.67,438.12 337,436.9Z" fill="#ffa57d"/>
<path d="M319,466.3C319.7,466.48 319.58,467.85 320.1,469.8C320.62,471.75 321.25,475.25 322.1,478C322.95,480.75 324.68,483.2 325.2,486.3C325.72,489.4 325.55,493.17 325.2,496.6C324.85,500.03 323.78,503.48 323.1,506.9C322.42,510.32 321.78,514.02 321.1,517.1C320.42,520.18 320.02,522.75 319,525.4C317.98,528.05 316.33,530.57 315,533C313.67,535.43 312.22,537.83 311,540C309.78,542.17 308.95,543.97 307.7,546C306.45,548.03 304.88,550.15 303.5,552.2C302.12,554.25 300.77,556.77 299.4,558.3C298.03,559.83 296.67,561.4 295.3,561.4C293.93,561.4 292.57,559.83 291.2,558.3C289.83,556.77 288.3,554.25 287.1,552.2C285.9,550.15 284.6,548.42 284,546C283.4,543.58 283.58,540.8 283.5,537.7C283.42,534.6 283.42,530.13 283.5,527.4C283.58,524.67 283.07,523.18 284,521.3C284.93,519.42 287.05,518.17 289.1,516.1C291.15,514.03 294.23,511.3 296.3,508.9C298.37,506.5 299.95,504.43 301.5,501.7C303.05,498.97 304.4,495.42 305.6,492.5C306.8,489.58 307.67,486.95 308.7,484.2C309.73,481.45 310.95,477.88 311.8,476C312.65,474.12 313.12,474.12 313.8,472.9C314.48,471.68 315.03,469.8 315.9,468.7C316.77,467.6 318.3,466.12 319,466.3Z" fill="#ffa57d"/>
<path d="M250,537.7C251.03,537.87 254.3,538.02 256.2,538.7C258.1,539.38 259.68,540.5 261.4,541.8C263.12,543.1 266.17,544.43 266.5,546.5C266.83,548.57 264.43,551.88 263.4,554.2C262.37,556.52 261.5,558.33 260.3,560.4C259.1,562.47 257.4,565.05 256.2,566.6C255,568.15 254.13,569.02 253.1,569.7C252.07,570.38 250.52,570.53 250,570.7Z" fill="#ffa57d"/>
<path d="M292.2,524.3C292.37,521.73 293.27,518 294.3,515.1C295.33,512.2 296.87,509.47 298.4,506.9C299.93,504.33 301.62,501.93 303.5,499.7C305.38,497.47 308.15,494.7 309.7,493.5C311.25,492.3 312.12,491.13 312.8,492.5C313.48,493.87 313.63,498.45 313.8,501.7C313.97,504.95 314.13,508.57 313.8,512C313.47,515.43 312.65,519.22 311.8,522.3C310.95,525.38 310.08,527.93 308.7,530.5C307.32,533.07 305.38,536.67 303.5,537.7C301.62,538.73 299.1,537.9 297.4,536.7C295.7,535.5 294.17,532.57 293.3,530.5C292.43,528.43 292.03,526.87 292.2,524.3Z" fill="#ff7341"/>
<path d="M250,542.9C250.35,543.42 251.67,543.98 252.1,546C252.53,548.02 252.6,552 252.6,555C252.6,558 252.53,561.67 252.1,564C251.67,566.33 250.35,568.17 250,569Z" fill="#ff7341"/>
<path d="M303.5,508.9C303.92,507.7 306,507.38 306.6,507.9C307.2,508.42 307.35,510.28 307.1,512C306.85,513.72 305.6,517.68 305.1,518.2C304.6,518.72 304.37,516.65 304.1,515.1C303.83,513.55 303.08,510.1 303.5,508.9Z" fill="#ff5019"/>
<path d="M367.5,408.4C368.15,409.83 369.88,414.83 371.4,417C372.92,419.17 374.53,420.15 376.6,421.4C378.67,422.65 381.9,423.98 383.8,424.5C385.7,425.02 386.95,424.83 388,424.5C389.05,424.17 389.25,423.87 390.1,422.5C390.95,421.13 392.25,418.65 393.1,416.3C393.95,413.95 394.85,409.72 395.2,408.4Z" fill="#d7e8fc"/>
<path d="M341.7,470C342.07,468.45 343.17,467.6 344.7,466.7C346.23,465.8 348.83,464.87 350.9,464.6C352.97,464.33 355.38,464.58 357.1,465.1C358.82,465.62 360.35,466.4 361.2,467.7C362.05,469 362.2,471.18 362.2,472.9C362.2,474.62 361.88,476.12 361.2,478C360.52,479.88 359.13,482.57 358.1,484.2C357.07,485.83 356.37,487.28 355,487.8C353.63,488.32 351.43,488.23 349.9,487.3C348.37,486.37 347.03,484.08 345.8,482.2C344.57,480.32 343.18,478.03 342.5,476C341.82,473.97 341.33,471.55 341.7,470Z" fill="#d7e8fc"/>
<path d="M272.2,600C272.2,596.25 271.9,581.53 272.2,577.5C272.5,573.47 272.7,576.12 274,575.8C275.3,575.48 278.5,575.08 280,575.6C281.5,576.12 282.25,576.98 283,578.9C283.75,580.82 284.33,584.87 284.5,587.1C284.67,589.33 284.6,590.07 284,592.3C283.4,594.53 281.58,598.45 280.9,600.5C280.22,602.55 279.88,603.18 279.9,604.6C279.92,606.02 280.82,608.27 281,609L272,609Z" fill="#d7e8fc"/>
<path d="M250,451.3C250.7,451.63 252.65,452.45 254.2,453.3C255.75,454.15 257.77,455.2 259.3,456.4C260.83,457.6 262.03,458.95 263.4,460.5C264.77,462.05 266.12,464.15 267.5,465.7C268.88,467.25 270.15,468.43 271.7,469.8C273.25,471.17 275.02,472.62 276.8,473.9C278.58,475.18 280.68,476.3 282.4,477.5C284.12,478.7 285.8,479.63 287.1,481.1C288.4,482.57 289.35,484.58 290.2,486.3C291.05,488.02 292.03,489.68 292.2,491.4C292.37,493.12 292.05,494.53 291.2,496.6C290.35,498.67 288.63,501.75 287.1,503.8C285.57,505.85 284.07,507.37 282,508.9C279.93,510.43 277.28,511.8 274.7,513C272.12,514.2 269.23,515.15 266.5,516.1C263.77,517.05 261.05,518.02 258.3,518.7C255.55,519.38 251.38,519.95 250,520.2Z" fill="#b4cdff"/>
<path d="M250,459.5C250.7,459.83 252.65,460.47 254.2,461.5C255.75,462.53 257.58,464.03 259.3,465.7C261.02,467.37 262.72,469.87 264.5,471.5C266.28,473.13 268.08,474.33 270,475.5C271.92,476.67 274.02,477.38 276,478.5C277.98,479.62 280.22,480.73 281.9,482.2C283.58,483.67 285.07,485.77 286.1,487.3C287.13,488.83 288.28,489.85 288.1,491.4C287.92,492.95 286.37,494.53 285,496.6C283.63,498.67 281.78,501.75 279.9,503.8C278.02,505.85 275.93,507.53 273.7,508.9C271.47,510.27 269.07,510.97 266.5,512C263.93,513.03 261.05,514.25 258.3,515.1C255.55,515.95 251.38,516.77 250,517.1Z" fill="#7da5ff"/>
<path d="M250,464.6C250.7,464.95 252.82,465.83 254.2,466.7C255.58,467.57 256.93,468.67 258.3,469.8C259.67,470.93 261.03,472.38 262.4,473.5C263.77,474.62 264.62,475.05 266.5,476.5C268.38,477.95 271.63,480.57 273.7,482.2C275.77,483.83 277.27,484.77 278.9,486.3C280.53,487.83 283.65,489.4 283.5,491.4C283.35,493.4 279.8,496.15 278,498.3C276.2,500.45 274.62,502.53 272.7,504.3C270.78,506.07 268.9,507.53 266.5,508.9C264.1,510.27 261.05,511.57 258.3,512.5C255.55,513.43 251.38,514.17 250,514.5Z" fill="#4173ff"/>
<path d="M250,469.8C250.87,470.32 253.53,471.78 255.2,472.9C256.87,474.02 258.12,475.07 260,476.5C261.88,477.93 264.38,479.87 266.5,481.5C268.62,483.13 270.78,484.62 272.7,486.3C274.62,487.98 277.78,489.75 278,491.6C278.22,493.45 275.67,495.5 274,497.4C272.33,499.3 270,501.23 268,503C266,504.77 263.97,506.7 262,508C260.03,509.3 258.2,510.17 256.2,510.8C254.2,511.43 251.03,511.63 250,511.8Z" fill="#1e50ff"/>
<path d="M250,474.4C250.52,474.67 252.1,475.35 253.1,476C254.1,476.65 254.8,477.27 256,478.3C257.2,479.33 258.72,480.78 260.3,482.2C261.88,483.62 263.8,485.33 265.5,486.8C267.2,488.27 270.12,489.63 270.5,491C270.88,492.37 268.88,493.5 267.8,495C266.72,496.5 265.38,498.42 264,500C262.62,501.58 261,503.12 259.5,504.5C258,505.88 256.58,507.33 255,508.3C253.42,509.27 250.83,509.97 250,510.3Z" fill="#002ae1"/>
<path d="M250,483.2C250.52,483.72 252.07,484.93 253.1,486.3C254.13,487.67 256.02,489.68 256.2,491.4C256.38,493.12 255.23,495.05 254.2,496.6C253.17,498.15 250.7,500.02 250,500.7Z" fill="#0019aa"/>
<path d="M415.8,408.4C415.88,409.72 416.13,412.42 416.3,416.3C416.47,420.18 416.97,427.75 416.8,431.7C416.63,435.65 415.98,437.43 415.3,440C414.62,442.57 413.65,444.53 412.7,447.1C411.75,449.67 410.5,453.25 409.6,455.4C408.7,457.55 408.07,458 407.3,460C406.53,462 405.67,465.02 405,467.4C404.33,469.78 403.87,471.92 403.3,474.3C402.73,476.68 402.08,479.32 401.6,481.7C401.12,484.08 400.68,485.55 400.4,488.6C400.12,491.65 399.87,496.77 399.9,500C399.93,503.23 400.18,505.48 400.6,508C401.02,510.52 401.42,512.72 402.4,515.1C403.38,517.48 405.13,519.9 406.5,522.3C407.87,524.7 408.53,527.45 410.6,529.5C412.67,531.55 416.15,533.3 418.9,534.6C421.65,535.9 425.05,537.3 427.1,537.3C429.15,537.3 430.17,536.58 431.2,534.6C432.23,532.62 432.45,527.62 433.3,525.4C434.15,523.18 434.42,522.5 436.3,521.3C438.18,520.1 440.72,518.9 444.6,518.2C448.48,517.5 457.1,517.28 459.6,517.1L459.6,408.4Z" fill="#b4cdff"/>
<path d="M426.1,408.4C426.1,410.57 426.1,416.83 426.1,421.4C426.1,425.97 426.62,432.88 426.1,435.8C425.58,438.72 424.2,437.7 423,438.9C421.8,440.1 419.93,441.28 418.9,443C417.87,444.72 417.67,446.97 416.8,449.2C415.93,451.43 414.52,454.6 413.7,456.4C412.88,458.2 412.58,458.17 411.9,460C411.22,461.83 410.37,465.02 409.6,467.4C408.83,469.78 408.07,471.92 407.3,474.3C406.53,476.68 405.67,479.13 405,481.7C404.33,484.27 403.68,486.98 403.3,489.7C402.92,492.42 402.53,495.7 402.7,498C402.87,500.3 403.32,501.68 404.3,503.5C405.28,505.32 406.87,507.23 408.6,508.9C410.33,510.57 412.63,512.4 414.7,513.5C416.77,514.6 418.6,515.42 421,515.5C423.4,515.58 426.43,514.58 429.1,514C431.77,513.42 434.18,512.42 437,512C439.82,511.58 442.23,511.58 446,511.5C449.77,511.42 457.33,511.5 459.6,511.5L459.6,408.4Z" fill="#7da5ff"/>
<path d="M437.4,408.4C437.92,410.05 439.13,415.27 440.5,418.3C441.87,421.33 443.9,423.5 445.6,426.6C447.3,429.7 450.87,434.5 450.7,436.9C450.53,439.3 446.82,439.98 444.6,441C442.38,442.02 439.63,442.32 437.4,443C435.17,443.68 433.08,444.42 431.2,445.1C429.32,445.78 427.65,446.07 426.1,447.1C424.55,448.13 423.1,449.58 421.9,451.3C420.7,453.02 419.72,455.95 418.9,457.4C418.08,458.85 417.8,458.33 417,460C416.2,461.67 415.05,465.02 414.1,467.4C413.15,469.78 412.15,471.92 411.3,474.3C410.45,476.68 409.67,479.32 409,481.7C408.33,484.08 407.4,486.12 407.3,488.6C407.2,491.08 407.87,494.62 408.4,496.6C408.93,498.58 409.78,499.48 410.5,500.5C411.22,501.52 411.3,501.82 412.7,502.7C414.1,503.58 416.17,505.28 418.9,505.8C421.63,506.32 425.68,505.97 429.1,505.8C432.52,505.63 435.97,504.8 439.4,504.8C442.83,504.8 446.33,505.63 449.7,505.8C453.07,505.97 457.95,505.8 459.6,505.8L459.6,408.4Z" fill="#4173ff"/>
<path d="M448.7,408.4C449.38,409.72 450.98,413.62 452.8,416.3C454.62,418.98 458.47,423.13 459.6,424.5L459.6,408.4Z" fill="#1e50ff"/>
<path d="M459.6,442C458.3,442.35 454.3,443.58 451.8,444.1C449.3,444.62 447,444.6 444.6,445.1C442.2,445.6 439.8,446.25 437.4,447.1C435,447.95 432.27,449.17 430.2,450.2C428.13,451.23 426.37,451.75 425,453.3C423.63,454.85 422.95,457.43 422,459.5C421.05,461.57 420.03,463.72 419.3,465.7C418.57,467.68 418.17,469.02 417.6,471.4C417.03,473.78 416.85,476.67 415.9,480C414.95,483.33 412,488.83 411.9,491.4C411.8,493.97 414.07,494.15 415.3,495.4C416.53,496.65 417.85,498.35 419.3,498.9C420.75,499.45 421.85,498.75 424,498.7C426.15,498.65 429.12,498.43 432.2,498.6C435.28,498.77 437.93,499.18 442.5,499.7C447.07,500.22 456.75,501.37 459.6,501.7Z" fill="#1e50ff"/>
<path d="M459.6,449.2C458.3,449.72 454.65,451.1 451.8,452.3C448.95,453.5 445.42,455.37 442.5,456.4C439.58,457.43 436.7,457.65 434.3,458.5C431.9,459.35 429.57,460.13 428.1,461.5C426.63,462.87 425.93,464.8 425.5,466.7C425.07,468.6 425.4,471.35 425.5,472.9C425.6,474.45 425.83,474.63 426.1,476C426.37,477.37 426.25,479.38 427.1,481.1C427.95,482.82 429.15,484.92 431.2,486.3C433.25,487.68 436.32,488.2 439.4,489.4C442.48,490.6 446.33,492.48 449.7,493.5C453.07,494.52 457.95,495.17 459.6,495.5Z" fill="#002ae1"/>
<path d="M459.6,463C458.47,463.45 454.62,464.62 452.8,465.7C450.98,466.78 449.22,468.28 448.7,469.5C448.18,470.72 449.07,471.83 449.7,473C450.33,474.17 451.62,475.62 452.5,476.5C453.38,477.38 453.82,477.8 455,478.3C456.18,478.8 458.83,479.3 459.6,479.5Z" fill="#0019aa"/>
<path d="M340.6,548C341.12,544.9 341.83,540.1 342.7,537.7C343.57,535.3 344.08,534.8 345.8,533.6C347.52,532.4 350.95,531.7 353,530.5C355.05,529.3 356.9,527.6 358.1,526.4C359.3,525.2 359.08,523.82 360.2,523.3C361.32,522.78 364.03,519.52 364.8,523.3C365.57,527.08 365.23,540.85 364.8,546C364.37,551.15 362.97,551.63 362.2,554.2C361.43,556.77 360.37,559 360.2,561.4C360.03,563.8 360.52,567.05 361.2,568.6C361.88,570.15 362.93,571.38 364.3,570.7C365.67,570.02 367.87,565.87 369.4,564.5C370.93,563.13 371.78,562.67 373.5,562.5C375.22,562.33 377.8,563.5 379.7,563.5C381.6,563.5 383.52,562.85 384.9,562.5C386.28,562.15 386.8,562.1 388,561.4C389.2,560.7 390.73,559.15 392.1,558.3C393.47,557.45 394.83,556.12 396.2,556.3C397.57,556.48 399.1,558.03 400.3,559.4C401.5,560.77 402.02,562.97 403.4,564.5C404.78,566.03 406.72,567.48 408.6,568.6C410.48,569.72 412.65,571.02 414.7,571.2C416.75,571.38 418.83,570.65 420.9,569.7C422.97,568.75 425.38,567.05 427.1,565.5C428.82,563.95 430.17,562.28 431.2,560.4C432.23,558.52 432.7,555.4 433.3,554.2C433.9,553 434.25,552.68 434.8,553.2C435.35,553.72 436.1,555.07 436.6,557.3C437.1,559.53 437.57,563.33 437.8,566.6C438.03,569.87 438.1,574.17 438,576.9C437.9,579.63 437.53,581.42 437.2,583C436.87,584.58 436.52,584.75 436,586.4C435.48,588.05 434.63,590.75 434.1,592.9C433.57,595.05 433.18,597.73 432.8,599.3C432.42,600.87 432.45,601.98 431.8,602.3C431.15,602.62 430.45,601.7 428.9,601.2C427.35,600.7 424.42,599.4 422.5,599.3C420.58,599.2 419,599.85 417.4,600.6C415.8,601.35 414.73,602.63 412.9,603.8C411.07,604.97 408.55,606.85 406.4,607.6C404.25,608.35 403.07,607.93 400,608.3C396.93,608.67 390.52,609.55 388,609.8C385.48,610.05 385.77,609.52 384.9,609.8C384.03,610.08 383.23,611.85 382.8,611.5C382.37,611.15 382.65,609.02 382.3,607.7C381.95,606.38 381.65,604.8 380.7,603.6C379.75,602.4 378.13,601.18 376.6,600.5C375.07,599.82 373.38,600.18 371.5,599.5C369.62,598.82 367.37,597.43 365.3,596.4C363.23,595.37 361.33,593.98 359.1,593.3C356.87,592.62 353.95,592.13 351.9,592.3C349.85,592.47 348.5,593.78 346.8,594.3C345.1,594.82 343.58,595.9 341.7,595.4C339.82,594.9 337.22,593.18 335.5,591.3C333.78,589.42 332.43,586.33 331.4,584.1C330.37,581.87 329.13,579.8 329.3,577.9C329.47,576 331.2,574.25 332.4,572.7C333.6,571.15 335.3,571.33 336.5,568.6C337.7,565.87 338.92,559.73 339.6,556.3C340.28,552.87 340.08,551.1 340.6,548Z" fill="#b4cdff"/>
<path d="M313,580C312.75,578.5 313.67,576.5 314.5,575.5C315.33,574.5 317.03,573.67 318,574C318.97,574.33 320,576 320.3,577.5C320.6,579 320.52,581.83 319.8,583C319.08,584.17 317.13,585 316,584.5C314.87,584 313.25,581.5 313,580Z" fill="#b4cdff"/>
<path d="M316.6,618C316.92,617 317.77,613.3 318.5,612C319.23,610.7 320.17,610.2 321,610.2C321.83,610.2 322.83,610.7 323.5,612C324.17,613.3 324.75,617 325,618Z" fill="#b4cdff"/>
<path d="M328,618C328.17,616.83 328.33,612.45 329,611C329.67,609.55 331.17,609.22 332,609.3C332.83,609.38 333.17,611.35 334,611.5C334.83,611.65 336.1,610.03 337,610.2C337.9,610.37 339.07,611.2 339.4,612.5C339.73,613.8 339.07,617.08 339,618Z" fill="#b4cdff"/>
<path d="M259.4,618C259.83,617.25 260.9,614.67 262,613.5C263.1,612.33 264.33,611.58 266,611C267.67,610.42 269.67,610.08 272,610C274.33,609.92 277.5,610.12 280,610.5C282.5,610.88 284.5,611.78 287,612.3C289.5,612.82 292.33,613.27 295,613.6C297.67,613.93 300.83,613.97 303,614.3C305.17,614.63 307,614.98 308,615.6C309,616.22 308.83,617.6 309,618Z" fill="#b4cdff"/>
<path d="M266,618C266.42,617.25 267.17,614.5 268.5,613.5C269.83,612.5 272.08,612.2 274,612C275.92,611.8 278.33,611.88 280,612.3C281.67,612.72 283,613.55 284,614.5C285,615.45 285.67,617.42 286,618Z" fill="#7da5ff"/>
<path d="M272,618C272.25,617.5 272.5,615.53 273.5,615C274.5,614.47 276.58,614.55 278,614.8C279.42,615.05 281.25,615.97 282,616.5C282.75,617.03 282.42,617.75 282.5,618Z" fill="#4173ff"/>
<path d="M350,604.7C350,604.33 351.33,603.6 352,603.6C352.67,603.6 354,604.33 354,604.7C354,605.07 352.67,605.8 352,605.8C351.33,605.8 350,605.07 350,604.7Z" fill="#ffead7"/>
<path d="M343.7,618C344.22,617.32 345.77,613.9 346.8,613.9C347.83,613.9 349.38,617.32 349.9,618Z" fill="#ffead7"/>
<path d="M375.6,611.5C375.6,610.87 376.48,608.7 377,608.7C377.52,608.7 378.7,610.87 378.7,611.5C378.7,612.13 377.52,612.5 377,612.5C376.48,612.5 375.6,612.13 375.6,611.5Z" fill="#b4cdff"/>
<path d="M459.6,528.9L451.6,533.6L449.7,542L449.7,552.2L450.7,559.4L451.8,563.5L447.7,565.5L445.6,569.7L443.5,574.8L439.4,577.9L437.5,583L436,590L435,598L434.3,605L434.3,611L459.6,611Z" fill="#ffead7"/>
<path d="M435.5,610L436,600L437,588L438,578.5L441,575.8L446.5,574.5L447.8,569L449.5,566.5L451.8,567.5L452.6,573.5L455,576.5L459.6,576.5L459.6,611L436,611Z" fill="#ffc8af"/>
<path d="M436.6,610L437,600L437.6,588L438.5,579L442,576.8L447.5,576L448.6,570L450.2,567.8L451.6,570L452.2,575.5L455,577.4L459.6,577.4L459.6,611L437,611Z" fill="#ffa57d"/>
<path d="M437.6,610L437.8,600L438.3,588L439,579.5L444,578.5L448.6,577.8L449.6,574L450.5,572.5L451.2,574L451.8,578L456,578.3L459.6,578.3L459.6,611L438,611Z" fill="#ff5019"/>
<path d="M438.4,609.8L438.6,600L439.1,588L439.6,580.5L444,579.8L450,579L455,579.2L459.6,579.5L459.6,611L439,611Z" fill="#e63200"/>
<path d="M439.6,590L439.8,582L448,581.5L457.5,581.8L457.5,590L455,590L455,605L452.5,606L452,609.3L446,609.3L443,605.5L440,600Z" fill="#b92300"/>
<path d="M440.4,590L440.4,583.5L448,583L456.8,583.2L456.8,589.6L454,589.6L454,604.8L451.6,605.5L451,608.3L447,608.3L444,604L440.8,598.5Z" fill="#870000"/>
<path d="M386,618C386.33,617.67 385.67,616.77 388,616C390.33,615.23 396.4,614.15 400,613.4C403.6,612.65 406.6,612.35 409.6,611.5C412.6,610.65 415.85,608.95 418,608.3C420.15,607.65 421.22,607.5 422.5,607.6C423.78,607.7 424.7,608.33 425.7,608.9C426.7,609.47 428.03,609.48 428.5,611C428.97,612.52 428.5,616.83 428.5,618Z" fill="#ffead7"/>
<path d="M406,618C406.6,617.77 407.92,617.47 409.6,616.6C411.28,615.73 414.45,613.57 416.1,612.8C417.75,612.03 418.93,611.13 419.5,612C420.07,612.87 419.5,617 419.5,618Z" fill="#ffc8af"/>
<path d="M431,610.8C431.25,610.33 431.67,608.53 432.5,608C433.33,607.47 434.98,607.43 436,607.6C437.02,607.77 438.17,608.47 438.6,609C439.03,609.53 438.6,610.5 438.6,610.8Z" fill="#b4cdff"/>
<path d="M434,610.4C434.25,610.13 435,608.8 435.5,608.8C436,608.8 436.75,610.13 437,610.4Z" fill="#7da5ff"/>
<path d="M418.9,610.8L452,610.8L452.5,606.5L454.3,604.5L454.3,589.2L459.6,589.2L459.6,618L418.9,618Z" fill="#ffffff"/>
</g>
<text x="0" y="0" font-size="7.8" text-anchor="middle" transform="translate(311.15 304.7) scale(1 1.17)">90S</text>
<text x="0" y="0" font-size="7.8" text-anchor="middle" transform="translate(276.48 304.7) scale(1 1.17)">60S</text>
<text x="0" y="0" font-size="7.8" text-anchor="middle" transform="translate(241.82 304.7) scale(1 1.17)">30S</text>
<text x="0" y="0" font-size="7.8" text-anchor="middle" transform="translate(207.15 304.7) scale(1 1.17)">0</text>
<text x="0" y="0" font-size="7.8" text-anchor="middle" transform="translate(172.48 304.7) scale(1 1.17)">30N</text>
<text x="0" y="0" font-size="7.8" text-anchor="middle" transform="translate(137.82 304.7) scale(1 1.17)">60N</text>
<text x="0" y="0" font-size="7.8" text-anchor="middle" transform="translate(103.15 304.7) scale(1 1.17)">90N</text>
<text x="0" y="0" font-size="7.6" text-anchor="end" transform="translate(92.15 82.9) scale(1 1.15)">70</text>
<text x="0" y="0" font-size="7.6" text-anchor="end" transform="translate(92.15 110.8) scale(1 1.15)">100</text>
<text x="0" y="0" font-size="7.6" text-anchor="end" transform="translate(92.15 142.51) scale(1 1.15)">150</text>
<text x="0" y="0" font-size="7.6" text-anchor="end" transform="translate(92.15 165.01) scale(1 1.15)">200</text>
<text x="0" y="0" font-size="7.6" text-anchor="end" transform="translate(92.15 182.47) scale(1 1.15)">250</text>
<text x="0" y="0" font-size="7.6" text-anchor="end" transform="translate(92.15 196.73) scale(1 1.15)">300</text>
<text x="0" y="0" font-size="7.6" text-anchor="end" transform="translate(92.15 219.23) scale(1 1.15)">400</text>
<text x="0" y="0" font-size="7.6" text-anchor="end" transform="translate(92.15 236.68) scale(1 1.15)">500</text>
<text x="0" y="0" font-size="7.6" text-anchor="end" transform="translate(92.15 263) scale(1 1.15)">700</text>
<text x="0" y="0" font-size="7.6" text-anchor="end" transform="translate(92.15 278.19) scale(1 1.15)">850</text>
<text x="0" y="0" font-size="7.6" text-anchor="end" transform="translate(92.15 290.9) scale(1 1.15)">1000</text>
<text x="0" y="0" font-size="7.6" text-anchor="start" transform="translate(321.75 252.98) scale(1 1.15)">4</text>
<text x="0" y="0" font-size="7.6" text-anchor="start" transform="translate(321.75 210.13) scale(1 1.15)">8</text>
<text x="0" y="0" font-size="7.6" text-anchor="start" transform="translate(321.75 162.53) scale(1 1.15)">12</text>
<text x="0" y="0" font-size="7.6" text-anchor="start" transform="translate(321.75 113.39) scale(1 1.15)">16</text>
<path d="M311.15,79.4 v-6 M311.15,287.4 v6 M299.59,79.4 v-3.2 M299.59,287.4 v3.2 M288.04,79.4 v-3.2 M288.04,287.4 v3.2 M276.48,79.4 v-6 M276.48,287.4 v6 M264.93,79.4 v-3.2 M264.93,287.4 v3.2 M253.37,79.4 v-3.2 M253.37,287.4 v3.2 M241.82,79.4 v-6 M241.82,287.4 v6 M230.26,79.4 v-3.2 M230.26,287.4 v3.2 M218.71,79.4 v-3.2 M218.71,287.4 v3.2 M207.15,79.4 v-6 M207.15,287.4 v6 M195.59,79.4 v-3.2 M195.59,287.4 v3.2 M184.04,79.4 v-3.2 M184.04,287.4 v3.2 M172.48,79.4 v-6 M172.48,287.4 v6 M160.93,79.4 v-3.2 M160.93,287.4 v3.2 M149.37,79.4 v-3.2 M149.37,287.4 v3.2 M137.82,79.4 v-6 M137.82,287.4 v6 M126.26,79.4 v-3.2 M126.26,287.4 v3.2 M114.71,79.4 v-3.2 M114.71,287.4 v3.2 M103.15,79.4 v-6 M103.15,287.4 v6 M103.15,79.4 h-6 M103.15,107.3 h-6 M103.15,139.01 h-6 M103.15,161.51 h-6 M103.15,178.97 h-6 M103.15,193.23 h-6 M103.15,215.73 h-6 M103.15,233.18 h-6 M103.15,259.5 h-6 M103.15,274.69 h-6 M103.15,287.4 h-6 M311.15,249.58 h6 M311.15,206.73 h6 M311.15,159.13 h6 M311.15,109.99 h6" stroke="#000" stroke-width="1" fill="none"/>
<rect x="103.15" y="79.4" width="208" height="208" fill="none" stroke="#000" stroke-width="1.1"/>
<text x="0" y="0" font-size="11" text-anchor="start" transform="translate(103.15 70.5) scale(1 1.1)">Temperature</text>
<text x="0" y="0" font-size="11" text-anchor="end" transform="translate(311.15 72.6) scale(1 1.06)">K</text>
<text x="0" y="0" font-size="11.7" text-anchor="middle" transform="translate(66.55 183.4) rotate(-90) scale(1 1.12)">Pressure (mb)</text>
<text x="0" y="0" font-size="11.9" text-anchor="middle" transform="translate(345.15 183.4) rotate(-90) scale(1 1.12)">Height (km)</text>
<text x="0" y="0" font-size="7.8" text-anchor="middle" transform="translate(573.04 304.7) scale(1 1.17)">60S</text>
<text x="0" y="0" font-size="7.8" text-anchor="middle" transform="translate(537.74 304.7) scale(1 1.17)">30S</text>
<text x="0" y="0" font-size="7.8" text-anchor="middle" transform="translate(502.45 304.7) scale(1 1.17)">0</text>
<text x="0" y="0" font-size="7.8" text-anchor="middle" transform="translate(467.16 304.7) scale(1 1.17)">30N</text>
<text x="0" y="0" font-size="7.8" text-anchor="middle" transform="translate(431.86 304.7) scale(1 1.17)">60N</text>
<text x="0" y="0" font-size="7.6" text-anchor="end" transform="translate(387.45 82.9) scale(1 1.15)">70</text>
<text x="0" y="0" font-size="7.6" text-anchor="end" transform="translate(387.45 110.8) scale(1 1.15)">100</text>
<text x="0" y="0" font-size="7.6" text-anchor="end" transform="translate(387.45 142.51) scale(1 1.15)">150</text>
<text x="0" y="0" font-size="7.6" text-anchor="end" transform="translate(387.45 165.01) scale(1 1.15)">200</text>
<text x="0" y="0" font-size="7.6" text-anchor="end" transform="translate(387.45 182.47) scale(1 1.15)">250</text>
<text x="0" y="0" font-size="7.6" text-anchor="end" transform="translate(387.45 196.73) scale(1 1.15)">300</text>
<text x="0" y="0" font-size="7.6" text-anchor="end" transform="translate(387.45 219.23) scale(1 1.15)">400</text>
<text x="0" y="0" font-size="7.6" text-anchor="end" transform="translate(387.45 236.68) scale(1 1.15)">500</text>
<text x="0" y="0" font-size="7.6" text-anchor="end" transform="translate(387.45 263) scale(1 1.15)">700</text>
<text x="0" y="0" font-size="7.6" text-anchor="end" transform="translate(387.45 278.19) scale(1 1.15)">850</text>
<text x="0" y="0" font-size="7.6" text-anchor="end" transform="translate(387.45 290.9) scale(1 1.15)">1000</text>
<text x="0" y="0" font-size="7.6" text-anchor="start" transform="translate(617.05 252.98) scale(1 1.15)">4</text>
<text x="0" y="0" font-size="7.6" text-anchor="start" transform="translate(617.05 210.13) scale(1 1.15)">8</text>
<text x="0" y="0" font-size="7.6" text-anchor="start" transform="translate(617.05 162.53) scale(1 1.15)">12</text>
<text x="0" y="0" font-size="7.6" text-anchor="start" transform="translate(617.05 113.39) scale(1 1.15)">16</text>
<path d="M596.57,79.4 v-3.2 M596.57,287.4 v3.2 M584.8,79.4 v-3.2 M584.8,287.4 v3.2 M573.04,79.4 v-6 M573.04,287.4 v6 M561.27,79.4 v-3.2 M561.27,287.4 v3.2 M549.51,79.4 v-3.2 M549.51,287.4 v3.2 M537.74,79.4 v-6 M537.74,287.4 v6 M525.98,79.4 v-3.2 M525.98,287.4 v3.2 M514.21,79.4 v-3.2 M514.21,287.4 v3.2 M502.45,79.4 v-6 M502.45,287.4 v6 M490.69,79.4 v-3.2 M490.69,287.4 v3.2 M478.92,79.4 v-3.2 M478.92,287.4 v3.2 M467.16,79.4 v-6 M467.16,287.4 v6 M455.39,79.4 v-3.2 M455.39,287.4 v3.2 M443.63,79.4 v-3.2 M443.63,287.4 v3.2 M431.86,79.4 v-6 M431.86,287.4 v6 M420.1,79.4 v-3.2 M420.1,287.4 v3.2 M408.33,79.4 v-3.2 M408.33,287.4 v3.2 M398.45,79.4 h-6 M398.45,107.3 h-6 M398.45,139.01 h-6 M398.45,161.51 h-6 M398.45,178.97 h-6 M398.45,193.23 h-6 M398.45,215.73 h-6 M398.45,233.18 h-6 M398.45,259.5 h-6 M398.45,274.69 h-6 M398.45,287.4 h-6 M606.45,249.58 h6 M606.45,206.73 h6 M606.45,159.13 h6 M606.45,109.99 h6" stroke="#000" stroke-width="1" fill="none"/>
<rect x="398.45" y="79.4" width="208" height="208" fill="none" stroke="#000" stroke-width="1.1"/>
<text x="0" y="0" font-size="11" text-anchor="start" transform="translate(398.45 70.5) scale(1 1.1)">Temperature</text>
<text x="0" y="0" font-size="11" text-anchor="end" transform="translate(606.45 72.6) scale(1 1.06)">K</text>
<text x="0" y="0" font-size="11.7" text-anchor="middle" transform="translate(361.85 183.4) rotate(-90) scale(1 1.12)">Pressure (mb)</text>
<text x="0" y="0" font-size="11.9" text-anchor="middle" transform="translate(640.45 183.4) rotate(-90) scale(1 1.12)">Height (km)</text>
<text x="0" y="0" font-size="7.8" text-anchor="middle" transform="translate(425.19 634.75) scale(1 1.17)">60S</text>
<text x="0" y="0" font-size="7.8" text-anchor="middle" transform="translate(389.89 634.75) scale(1 1.17)">30S</text>
<text x="0" y="0" font-size="7.8" text-anchor="middle" transform="translate(354.6 634.75) scale(1 1.17)">0</text>
<text x="0" y="0" font-size="7.8" text-anchor="middle" transform="translate(319.31 634.75) scale(1 1.17)">30N</text>
<text x="0" y="0" font-size="7.8" text-anchor="middle" transform="translate(284.01 634.75) scale(1 1.17)">60N</text>
<text x="0" y="0" font-size="7.6" text-anchor="end" transform="translate(239.6 412.95) scale(1 1.15)">70</text>
<text x="0" y="0" font-size="7.6" text-anchor="end" transform="translate(239.6 440.85) scale(1 1.15)">100</text>
<text x="0" y="0" font-size="7.6" text-anchor="end" transform="translate(239.6 472.56) scale(1 1.15)">150</text>
<text x="0" y="0" font-size="7.6" text-anchor="end" transform="translate(239.6 495.06) scale(1 1.15)">200</text>
<text x="0" y="0" font-size="7.6" text-anchor="end" transform="translate(239.6 512.52) scale(1 1.15)">250</text>
<text x="0" y="0" font-size="7.6" text-anchor="end" transform="translate(239.6 526.78) scale(1 1.15)">300</text>
<text x="0" y="0" font-size="7.6" text-anchor="end" transform="translate(239.6 549.28) scale(1 1.15)">400</text>
<text x="0" y="0" font-size="7.6" text-anchor="end" transform="translate(239.6 566.73) scale(1 1.15)">500</text>
<text x="0" y="0" font-size="7.6" text-anchor="end" transform="translate(239.6 593.05) scale(1 1.15)">700</text>
<text x="0" y="0" font-size="7.6" text-anchor="end" transform="translate(239.6 608.24) scale(1 1.15)">850</text>
<text x="0" y="0" font-size="7.6" text-anchor="end" transform="translate(239.6 620.95) scale(1 1.15)">1000</text>
<text x="0" y="0" font-size="7.6" text-anchor="start" transform="translate(469.2 583.03) scale(1 1.15)">4</text>
<text x="0" y="0" font-size="7.6" text-anchor="start" transform="translate(469.2 540.18) scale(1 1.15)">8</text>
<text x="0" y="0" font-size="7.6" text-anchor="start" transform="translate(469.2 492.58) scale(1 1.15)">12</text>
<text x="0" y="0" font-size="7.6" text-anchor="start" transform="translate(469.2 443.44) scale(1 1.15)">16</text>
<path d="M448.72,409.45 v-3.2 M448.72,617.45 v3.2 M436.95,409.45 v-3.2 M436.95,617.45 v3.2 M425.19,409.45 v-6 M425.19,617.45 v6 M413.42,409.45 v-3.2 M413.42,617.45 v3.2 M401.66,409.45 v-3.2 M401.66,617.45 v3.2 M389.89,409.45 v-6 M389.89,617.45 v6 M378.13,409.45 v-3.2 M378.13,617.45 v3.2 M366.36,409.45 v-3.2 M366.36,617.45 v3.2 M354.6,409.45 v-6 M354.6,617.45 v6 M342.84,409.45 v-3.2 M342.84,617.45 v3.2 M331.07,409.45 v-3.2 M331.07,617.45 v3.2 M319.31,409.45 v-6 M319.31,617.45 v6 M307.54,409.45 v-3.2 M307.54,617.45 v3.2 M295.78,409.45 v-3.2 M295.78,617.45 v3.2 M284.01,409.45 v-6 M284.01,617.45 v6 M272.25,409.45 v-3.2 M272.25,617.45 v3.2 M260.48,409.45 v-3.2 M260.48,617.45 v3.2 M250.6,409.45 h-6 M250.6,437.35 h-6 M250.6,469.06 h-6 M250.6,491.56 h-6 M250.6,509.02 h-6 M250.6,523.28 h-6 M250.6,545.78 h-6 M250.6,563.23 h-6 M250.6,589.55 h-6 M250.6,604.74 h-6 M250.6,617.45 h-6 M458.6,579.63 h6 M458.6,536.78 h6 M458.6,489.18 h6 M458.6,440.04 h6" stroke="#000" stroke-width="1" fill="none"/>
<rect x="250.6" y="409.45" width="208" height="208" fill="none" stroke="#000" stroke-width="1.1"/>
<text x="0" y="0" font-size="11" text-anchor="start" transform="translate(250.6 400.55) scale(1 1.1)">Temperature</text>
<text x="0" y="0" font-size="11" text-anchor="end" transform="translate(458.6 402.65) scale(1 1.06)">K</text>
<text x="0" y="0" font-size="11.7" text-anchor="middle" transform="translate(214 513.45) rotate(-90) scale(1 1.12)">Pressure (mb)</text>
<text x="0" y="0" font-size="11.9" text-anchor="middle" transform="translate(492.6 513.45) rotate(-90) scale(1 1.12)">Height (km)</text>
<text x="350" y="28.6" font-size="16.8" text-anchor="middle">JJA</text>
<text x="207.3" y="52.6" font-size="11.92" text-anchor="middle">f.cam6_3_132.FCLTHIST_ne30.001 (yrs 2000-2009)</text>
<text x="502.5" y="52.6" font-size="11.92" text-anchor="middle">AIRS</text>
<text x="354.8" y="382.4" font-size="11.92" text-anchor="middle">f.cam6_3_132.FCLTHIST_ne30.001 - AIRS</text>
<text x="0" y="0" font-size="9.44" text-anchor="middle" transform="translate(207 315.5) scale(1 1.1)">MIN = 181.96&#160; MAX = 299.33</text>
<text x="0" y="0" font-size="9.44" text-anchor="middle" transform="translate(502.4 315.5) scale(1 1.1)">MIN = 187.01&#160; MAX = 300.19</text>
<text x="0" y="0" font-size="9.43" text-anchor="start" transform="translate(485.1 430.1) scale(1 1.08)">MIN =&#160; -9.63&#160; MAX =&#160; 22.74</text>
<rect x="106" y="325.7" width="12.62" height="18.5" fill="#00007f"/>
<rect x="118.62" y="325.7" width="12.62" height="18.5" fill="#0019aa"/>
<rect x="131.25" y="325.7" width="12.62" height="18.5" fill="#002ae1"/>
<rect x="143.88" y="325.7" width="12.62" height="18.5" fill="#1e50ff"/>
<rect x="156.5" y="325.7" width="12.62" height="18.5" fill="#4173ff"/>
<rect x="169.12" y="325.7" width="12.62" height="18.5" fill="#7da5ff"/>
<rect x="181.75" y="325.7" width="12.62" height="18.5" fill="#b4cdff"/>
<rect x="194.38" y="325.7" width="12.62" height="18.5" fill="#d7e8fc"/>
<rect x="207" y="325.7" width="12.62" height="18.5" fill="#ffead7"/>
<rect x="219.62" y="325.7" width="12.62" height="18.5" fill="#ffc8af"/>
<rect x="232.25" y="325.7" width="12.62" height="18.5" fill="#ffa57d"/>
<rect x="244.88" y="325.7" width="12.62" height="18.5" fill="#ff7341"/>
<rect x="257.5" y="325.7" width="12.62" height="18.5" fill="#ff5019"/>
<rect x="270.12" y="325.7" width="12.62" height="18.5" fill="#e63200"/>
<rect x="282.75" y="325.7" width="12.62" height="18.5" fill="#b92300"/>
<rect x="295.38" y="325.7" width="12.62" height="18.5" fill="#870000"/>
<path d="M118.62,325.7 v18.5 M131.25,325.7 v18.5 M143.88,325.7 v18.5 M156.5,325.7 v18.5 M169.12,325.7 v18.5 M181.75,325.7 v18.5 M194.38,325.7 v18.5 M207,325.7 v18.5 M219.62,325.7 v18.5 M232.25,325.7 v18.5 M244.88,325.7 v18.5 M257.5,325.7 v18.5 M270.12,325.7 v18.5 M282.75,325.7 v18.5 M295.38,325.7 v18.5" stroke="#000" stroke-width="0.9" opacity="0.85"/>
<rect x="106" y="325.7" width="202" height="18.5" fill="none" stroke="#000" stroke-width="0.9" opacity="0.85"/>
<text x="0" y="0" font-size="7.8" text-anchor="middle" transform="translate(118.62 356) scale(1 1.25)">180</text>
<text x="0" y="0" font-size="7.8" text-anchor="middle" transform="translate(143.88 356) scale(1 1.25)">190</text>
<text x="0" y="0" font-size="7.8" text-anchor="middle" transform="translate(169.12 356) scale(1 1.25)">210</text>
<text x="0" y="0" font-size="7.8" text-anchor="middle" transform="translate(194.38 356) scale(1 1.25)">230</text>
<text x="0" y="0" font-size="7.8" text-anchor="middle" transform="translate(219.62 356) scale(1 1.25)">250</text>
<text x="0" y="0" font-size="7.8" text-anchor="middle" transform="translate(244.88 356) scale(1 1.25)">270</text>
<text x="0" y="0" font-size="7.8" text-anchor="middle" transform="translate(270.12 356) scale(1 1.25)">290</text>
<text x="0" y="0" font-size="7.8" text-anchor="middle" transform="translate(295.38 356) scale(1 1.25)">300</text>
<rect x="401.6" y="325.7" width="12.61" height="18.5" fill="#00007f"/>
<rect x="414.21" y="325.7" width="12.61" height="18.5" fill="#0019aa"/>
<rect x="426.81" y="325.7" width="12.61" height="18.5" fill="#002ae1"/>
<rect x="439.42" y="325.7" width="12.61" height="18.5" fill="#1e50ff"/>
<rect x="452.03" y="325.7" width="12.61" height="18.5" fill="#4173ff"/>
<rect x="464.63" y="325.7" width="12.61" height="18.5" fill="#7da5ff"/>
<rect x="477.24" y="325.7" width="12.61" height="18.5" fill="#b4cdff"/>
<rect x="489.84" y="325.7" width="12.61" height="18.5" fill="#d7e8fc"/>
<rect x="502.45" y="325.7" width="12.61" height="18.5" fill="#ffead7"/>
<rect x="515.06" y="325.7" width="12.61" height="18.5" fill="#ffc8af"/>
<rect x="527.66" y="325.7" width="12.61" height="18.5" fill="#ffa57d"/>
<rect x="540.27" y="325.7" width="12.61" height="18.5" fill="#ff7341"/>
<rect x="552.88" y="325.7" width="12.61" height="18.5" fill="#ff5019"/>
<rect x="565.48" y="325.7" width="12.61" height="18.5" fill="#e63200"/>
<rect x="578.09" y="325.7" width="12.61" height="18.5" fill="#b92300"/>
<rect x="590.69" y="325.7" width="12.61" height="18.5" fill="#870000"/>
<path d="M414.21,325.7 v18.5 M426.81,325.7 v18.5 M439.42,325.7 v18.5 M452.03,325.7 v18.5 M464.63,325.7 v18.5 M477.24,325.7 v18.5 M489.84,325.7 v18.5 M502.45,325.7 v18.5 M515.06,325.7 v18.5 M527.66,325.7 v18.5 M540.27,325.7 v18.5 M552.88,325.7 v18.5 M565.48,325.7 v18.5 M578.09,325.7 v18.5 M590.69,325.7 v18.5" stroke="#000" stroke-width="0.9" opacity="0.85"/>
<rect x="401.6" y="325.7" width="201.7" height="18.5" fill="none" stroke="#000" stroke-width="0.9" opacity="0.85"/>
<text x="0" y="0" font-size="7.8" text-anchor="middle" transform="translate(414.21 356) scale(1 1.25)">180</text>
<text x="0" y="0" font-size="7.8" text-anchor="middle" transform="translate(439.42 356) scale(1 1.25)">190</text>
<text x="0" y="0" font-size="7.8" text-anchor="middle" transform="translate(464.63 356) scale(1 1.25)">210</text>
<text x="0" y="0" font-size="7.8" text-anchor="middle" transform="translate(489.84 356) scale(1 1.25)">230</text>
<text x="0" y="0" font-size="7.8" text-anchor="middle" transform="translate(515.06 356) scale(1 1.25)">250</text>
<text x="0" y="0" font-size="7.8" text-anchor="middle" transform="translate(540.27 356) scale(1 1.25)">270</text>
<text x="0" y="0" font-size="7.8" text-anchor="middle" transform="translate(565.48 356) scale(1 1.25)">290</text>
<text x="0" y="0" font-size="7.8" text-anchor="middle" transform="translate(590.69 356) scale(1 1.25)">300</text>
<rect x="527.5" y="448.2" width="20.3" height="10.46" fill="#870000"/>
<rect x="527.5" y="458.66" width="20.3" height="10.46" fill="#b92300"/>
<rect x="527.5" y="469.12" width="20.3" height="10.46" fill="#e63200"/>
<rect x="527.5" y="479.59" width="20.3" height="10.46" fill="#ff5019"/>
<rect x="527.5" y="490.05" width="20.3" height="10.46" fill="#ff7341"/>
<rect x="527.5" y="500.51" width="20.3" height="10.46" fill="#ffa57d"/>
<rect x="527.5" y="510.98" width="20.3" height="10.46" fill="#ffc8af"/>
<rect x="527.5" y="521.44" width="20.3" height="10.46" fill="#ffead7"/>
<rect x="527.5" y="531.9" width="20.3" height="10.46" fill="#d7e8fc"/>
<rect x="527.5" y="542.36" width="20.3" height="10.46" fill="#b4cdff"/>
<rect x="527.5" y="552.83" width="20.3" height="10.46" fill="#7da5ff"/>
<rect x="527.5" y="563.29" width="20.3" height="10.46" fill="#4173ff"/>
<rect x="527.5" y="573.75" width="20.3" height="10.46" fill="#1e50ff"/>
<rect x="527.5" y="584.21" width="20.3" height="10.46" fill="#002ae1"/>
<rect x="527.5" y="594.67" width="20.3" height="10.46" fill="#0019aa"/>
<rect x="527.5" y="605.14" width="20.3" height="10.46" fill="#00007f"/>
<path d="M527.5,458.66 h20.3 M527.5,469.12 h20.3 M527.5,479.59 h20.3 M527.5,490.05 h20.3 M527.5,500.51 h20.3 M527.5,510.98 h20.3 M527.5,521.44 h20.3 M527.5,531.9 h20.3 M527.5,542.36 h20.3 M527.5,552.83 h20.3 M527.5,563.29 h20.3 M527.5,573.75 h20.3 M527.5,584.21 h20.3 M527.5,594.67 h20.3 M527.5,605.14 h20.3" stroke="#000" stroke-width="0.9" opacity="0.85"/>
<rect x="527.5" y="448.2" width="20.3" height="167.4" fill="none" stroke="#000" stroke-width="0.9" opacity="0.85"/>
<text x="552.7" y="461.86" font-size="9" text-anchor="start">9</text>
<text x="552.7" y="472.32" font-size="9" text-anchor="start">7</text>
<text x="552.7" y="482.79" font-size="9" text-anchor="start">5</text>
<text x="552.7" y="493.25" font-size="9" text-anchor="start">4</text>
<text x="552.7" y="503.71" font-size="9" text-anchor="start">3</text>
<text x="552.7" y="514.18" font-size="9" text-anchor="start">2</text>
<text x="552.7" y="524.64" font-size="9" text-anchor="start">1</text>
<text x="552.7" y="535.1" font-size="9" text-anchor="start">0</text>
<text x="551.2" y="545.56" font-size="9" text-anchor="start">-1</text>
<text x="551.2" y="556.03" font-size="9" text-anchor="start">-2</text>
<text x="551.2" y="566.49" font-size="9" text-anchor="start">-3</text>
<text x="551.2" y="576.95" font-size="9" text-anchor="start">-4</text>
<text x="551.2" y="587.41" font-size="9" text-anchor="start">-5</text>
<text x="551.2" y="597.88" font-size="9" text-anchor="start">-7</text>
<text x="551.2" y="608.34" font-size="9" text-anchor="start">-9</text>
</svg>
</body></html>
